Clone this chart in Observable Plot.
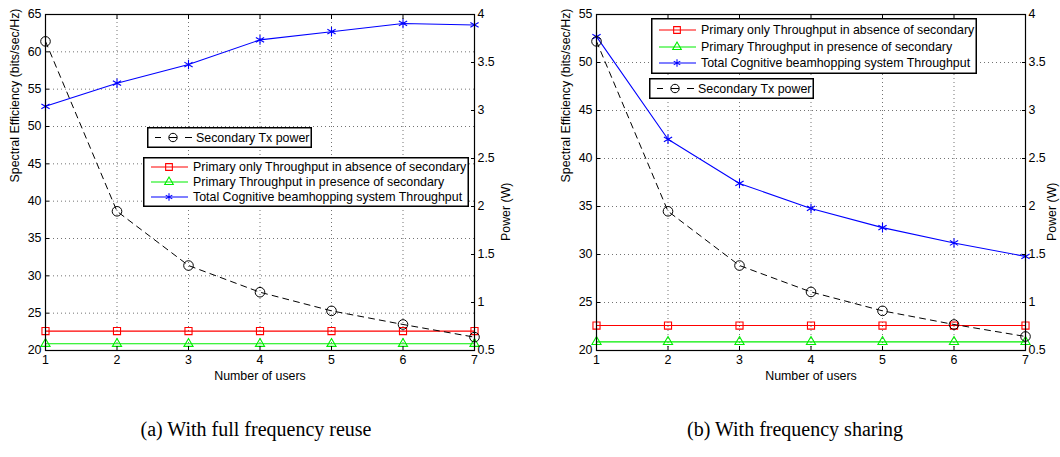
<!DOCTYPE html>
<html><head><meta charset="utf-8">
<script src="https://cdn.jsdelivr.net/npm/d3@7"></script>
<script src="https://cdn.jsdelivr.net/npm/@observablehq/plot@0.6"></script>
<style>
body{margin:0;background:#fff;font-family:"Liberation Sans",Arial,sans-serif;}
#root{position:relative;width:1060px;height:457px;overflow:hidden;background:#fff;}
.panel{position:absolute;top:0;}
.caption{position:absolute;top:419px;transform:translateX(-50%);font-family:"Liberation Serif","Times New Roman",serif;font-size:20px;line-height:1;white-space:nowrap;color:#000;}
.legend{position:absolute;}
</style></head><body><div id="root"></div>
<script>
// ---- data ----
const users = [1, 2, 3, 4, 5, 6, 7];
// (a) full frequency reuse
const totalA   = [52.7, 55.8, 58.3, 61.6, 62.7, 63.8, 63.6];
const primOnlyA = [22.6, 22.6, 22.6, 22.6, 22.6, 22.6, 22.6];
const primWithA = [20.9, 20.9, 20.9, 20.9, 20.9, 20.9, 20.9];
const powerA   = [3.72, 1.95, 1.385, 1.107, 0.913, 0.771, 0.639];
// (b) frequency sharing
const totalB   = [52.7, 42.0, 37.4, 34.8, 32.8, 31.2, 29.8];
const primOnlyB = [22.6, 22.6, 22.6, 22.6, 22.6, 22.6, 22.6];
const primWithB = [20.9, 20.9, 20.9, 20.9, 20.9, 20.9, 20.9];
const powerB   = [3.72, 1.95, 1.385, 1.11, 0.913, 0.771, 0.646];
// ticks
const yTicksA = [20, 25, 30, 35, 40, 45, 50, 55, 60, 65];
const yTicksB = [20, 25, 30, 35, 40, 45, 50, 55];
const powerTicks = [0.5, 1, 1.5, 2, 2.5, 3, 3.5, 4];
const powerDomain = [0.5, 4];
// labels
const xLabel = "Number of users";
const yLabel = "Spectral Efficiency (bits/sec/Hz)";
const y2Label = "Power (W)";
const seriesNames = [
  "Primary only Throughput in absence of secondary",
  "Primary Throughput in presence of secondary",
  "Total Cognitive beamhopping system Throughput"
];
const powerName = "Secondary Tx power";
const captions = ["(a) With full frequency reuse", "(b) With frequency sharing"];

const FONT = '"Liberation Sans", Arial, Helvetica, sans-serif';
const RED = "#ff0000", GREEN = "#00ee00", BLUE = "#0000ff";
const FS = 12.4;

function makePanel({total, primOnly, primWith, power, yTicks, left, marginLeft, marginRight, y2dx}) {
  const y0 = yTicks[0], y1 = yTicks[yTicks.length - 1];
  const toLeft = p => y0 + (p - powerDomain[0]) / (powerDomain[1] - powerDomain[0]) * (y1 - y0);
  const fromLeft = v => powerDomain[0] + (v - y0) / (y1 - y0) * (powerDomain[1] - powerDomain[0]);
  const rows = users.map((u, i) => ({u, total: total[i], po: primOnly[i], pw: primWith[i], pow: toLeft(power[i])}));
  const grid = {stroke: "#000", strokeOpacity: 0.55, strokeDasharray: "1,3"};
  const chart = Plot.plot({
    width: 530, height: 390,
    marginLeft, marginRight, marginTop: 14, marginBottom: 40,
    style: {fontFamily: FONT, fontSize: FS + "px", color: "#000", background: "transparent", overflow: "visible"},
    x: {domain: [users[0], users[users.length - 1]]},
    y: {domain: [y0, y1]},
    marks: [
      Plot.gridX(users.slice(1, -1), grid),
      Plot.gridY(yTicks.slice(1, -1), grid),
      Plot.line(rows, {x: "u", y: "po", stroke: RED, strokeWidth: 1.1}),
      Plot.dot(rows, {x: "u", y: "po", symbol: "square", stroke: RED, r: 4, strokeWidth: 1.1}),
      Plot.line(rows, {x: "u", y: "pw", stroke: GREEN, strokeWidth: 1.1}),
      Plot.dot(rows, {x: "u", y: "pw", symbol: "triangle", stroke: GREEN, r: 3.4, strokeWidth: 1.1}),
      Plot.line(rows, {x: "u", y: "total", stroke: BLUE, strokeWidth: 1.1}),
      Plot.dot(rows, {x: "u", y: "total", symbol: "asterisk", stroke: BLUE, r: 4.5, strokeWidth: 1.1}),
      Plot.line(rows, {x: "u", y: "pow", stroke: "#000", strokeWidth: 1, strokeDasharray: "6,5"}),
      Plot.dot(rows, {x: "u", y: "pow", symbol: "circle", stroke: "#000", r: 4.8, strokeWidth: 1}),
      Plot.frame({stroke: "#000", strokeWidth: 1.2}),
      Plot.axisX(users, {anchor: "bottom", tickSize: -4, tickPadding: 9, label: null, tickFormat: d => String(d)}),
      Plot.axisX(users, {anchor: "top", tickSize: -4, tickPadding: 0, label: null, tickFormat: () => ""}),
      Plot.axisY(yTicks, {anchor: "left", tickSize: -4, tickPadding: 8, label: null, tickFormat: d => String(d)}),
      Plot.axisY(powerTicks.map(toLeft), {anchor: "right", tickSize: -4, tickPadding: 7, label: null,
        tickFormat: d => String(Math.round(fromLeft(d) * 10) / 10)}),
      Plot.text([xLabel], {frameAnchor: "bottom", dy: 29, fontSize: FS, fill: "#000"}),
      Plot.text([yLabel], {frameAnchor: "left", rotate: -90, dx: -30, fontSize: FS, fill: "#000"}),
      Plot.text([y2Label], {frameAnchor: "right", rotate: -90, dx: y2dx, fontSize: FS, fill: "#000"})
    ]
  });
  chart.classList.add("panel");
  chart.style.left = left + "px";
  return chart;
}

const root = document.getElementById("root");
root.appendChild(makePanel({total: totalA, primOnly: primOnlyA, primWith: primWithA, power: powerA, yTicks: yTicksA, left: 0, marginLeft: 45, marginRight: 56, y2dx: 32}));
root.appendChild(makePanel({total: totalB, primOnly: primOnlyB, primWith: primWithB, power: powerB, yTicks: yTicksB, left: 530, marginLeft: 66, marginRight: 35, y2dx: 27}));

// ---- legends ----
function legendBox(x, y, w, h, entries, rowYs, textX) {
  const svg = d3.create("svg").attr("class", "legend").attr("width", w).attr("height", h)
    .style("left", x + "px").style("top", y + "px");
  svg.append("rect").attr("x", 0.75).attr("y", 0.75).attr("width", w - 1.5).attr("height", h - 1.5)
    .attr("fill", "#fff").attr("stroke", "#000").attr("stroke-width", 1.5);
  entries.forEach((e, i) => {
    const cy = rowYs[i];
    const g = svg.append("g");
    if (e.dashed) {
      g.append("line").attr("x1", 8).attr("x2", 14).attr("y1", cy).attr("y2", cy).attr("stroke", "#000");
      g.append("line").attr("x1", 38).attr("x2", 45).attr("y1", cy).attr("y2", cy).attr("stroke", "#000");
      g.append("circle").attr("cx", 26).attr("cy", cy).attr("r", 4.2).attr("fill", "none").attr("stroke", "#000");
      g.append("line").attr("x1", 22).attr("x2", 30).attr("y1", cy).attr("y2", cy).attr("stroke", "#000");
    } else {
      g.append("line").attr("x1", 8).attr("x2", 45).attr("y1", cy).attr("y2", cy).attr("stroke", e.color).attr("stroke-width", 1.1);
      const sym = d3.symbol().type(e.symbol).size(e.size)();
      g.append("path").attr("d", sym).attr("transform", `translate(26,${cy})`).attr("fill", e.symbol === d3.symbolAsterisk ? e.color : "none").attr("stroke", e.color).attr("stroke-width", 1.1);
    }
    svg.append("text").attr("x", textX).attr("y", cy).attr("dy", "0.35em")
      .attr("font-family", FONT).attr("font-size", FS).attr("fill", "#000").text(e.name);
  });
  root.appendChild(svg.node());
}
const mainEntries = [
  {name: seriesNames[0], color: RED, symbol: d3.symbolSquare, size: 45},
  {name: seriesNames[1], color: GREEN, symbol: d3.symbolTriangle, size: 32},
  {name: seriesNames[2], color: BLUE, symbol: d3.symbolAsterisk, size: 40}
];
const powEntry = [{name: powerName, dashed: true}];
legendBox(147, 127, 165, 21, powEntry, [10.5], 49);
legendBox(143, 157, 326, 50, mainEntries, [10, 25, 40], 50);
legendBox(651, 18, 326, 56, mainEntries, [12, 29, 45], 50);
legendBox(649, 78, 165, 21, powEntry, [10.5], 49);

// ---- captions ----
[[256, captions[0]], [795, captions[1]]].forEach(([cx, t]) => {
  const d = document.createElement("div");
  d.className = "caption"; d.style.left = cx + "px"; d.textContent = t;
  root.appendChild(d);
});
</script></body></html>
